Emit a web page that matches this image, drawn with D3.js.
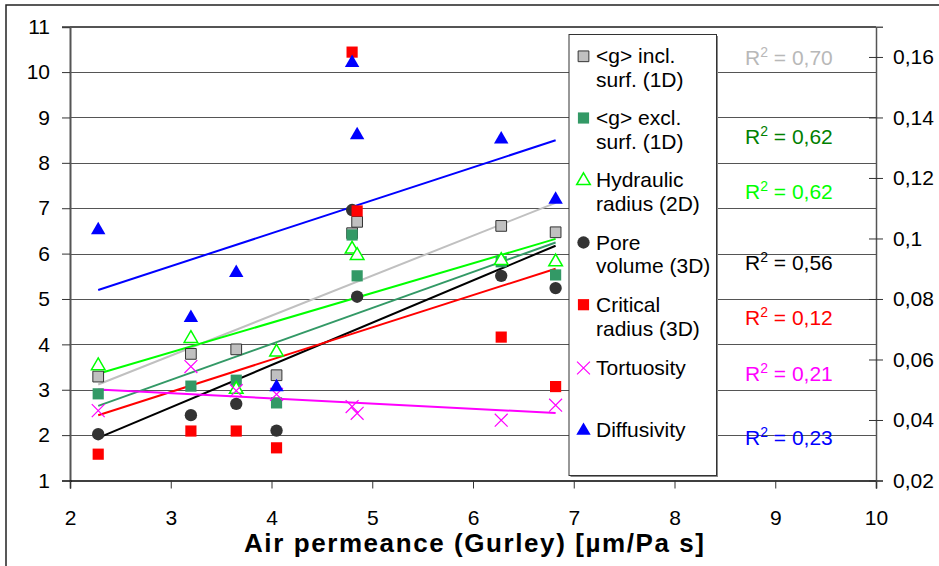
<!DOCTYPE html>
<html>
<head>
<meta charset="utf-8">
<script src="https://cdn.jsdelivr.net/npm/d3@7"></script>
<style>
  html, body { margin: 0; padding: 0; background: #fff; }
  svg { display: block; font-family: "Liberation Sans", Arial, sans-serif; }
</style>
</head>
<body>
<svg id="chart" width="939" height="566"></svg>
<script>
// Air permeance (Gurley) of the eight samples, µm/Pa s
const airPermeance = [2.28, 3.2, 3.65, 4.05, 4.8, 4.85, 6.28, 6.82];

// Left-axis series
const gInclSurf   = [3.29, 3.79, 3.89, 3.32, 6.45, 6.70, 6.61, 6.47];
const gExclSurf   = [2.91, 3.08, 3.21, 2.71, 6.41, 5.51, 5.82, 5.53];
const hydraulic   = [3.55, 4.15, 3.03, 3.85, 6.12, 5.98, 5.87, 5.84];
const poreVolume  = [2.02, 2.44, 2.69, 2.10, 6.96, 5.05, 5.51, 5.24];
const critRadius  = [1.58, 2.09, 2.09, 1.72, 10.44, 6.94, 4.16, 3.07];
const tortuosity  = [2.54, 3.51, 2.98, 2.90, 2.63, 2.48, 2.33, 2.66];
// Right-axis series
const diffusivity = [0.1031, 0.0741, 0.0890, 0.0512, 0.1584, 0.1345, 0.1331, 0.1132];

const seriesNames = [
  ["<g> incl.", "surf. (1D)"],
  ["<g> excl.", "surf. (1D)"],
  ["Hydraulic", "radius (2D)"],
  ["Pore", "volume (3D)"],
  ["Critical", "radius (3D)"],
  ["Tortuosity"],
  ["Diffusivity"]
];
const rSquaredLabels = ["0,70", "0,62", "0,62", "0,56", "0,12", "0,21", "0,23"];

const xTicks = [2, 3, 4, 5, 6, 7, 8, 9, 10];
const leftTicks = [1, 2, 3, 4, 5, 6, 7, 8, 9, 10, 11];
const rightTicks = [0.02, 0.04, 0.06, 0.08, 0.1, 0.12, 0.14, 0.16];
const xTitle = "Air permeance (Gurley) [µm/Pa s]";

const svg = d3.select("#chart");
const FONT = 21;

const plot = { left: 70, right: 876, top: 26.7, bottom: 480.5 };
const x = d3.scaleLinear().domain([2, 10]).range([plot.left, plot.right]);
const yL = d3.scaleLinear().domain([1, 11]).range([plot.bottom, plot.top]);
const yR = d3.scaleLinear().domain([0.02, 0.17]).range([plot.bottom, plot.top]);

const commaLocale = d3.formatLocale({ decimal: ",", thousands: ".", grouping: [3], currency: ["", ""] });
const fmtR = commaLocale.format("~g");

// Styles per series: marker symbol, fill, stroke, trend colour, R² colour, axis
const styles = [
  { data: gInclSurf,  sym: d3.symbolSquare,   size: 115, fill: "#c0c0c0", stroke: "#333", sw: 1,   line: "#c0c0c0", label: "#b8b8b8", y: yL },
  { data: gExclSurf,  sym: d3.symbolSquare,   size: 125, fill: "#339966", stroke: "none", sw: 0,  line: "#339966", label: "#008000", y: yL },
  { data: hydraulic,  sym: d3.symbolTriangle, size: 80,  fill: "#fff",    stroke: "#00ff00", sw: 1.5, line: "#00ff00", label: "#00ff00", y: yL },
  { data: poreVolume, sym: d3.symbolCircle,   size: 120, fill: "#333333", stroke: "none", sw: 0,  line: "#000000", label: "#000000", y: yL },
  { data: critRadius, sym: d3.symbolSquare,   size: 125, fill: "#ff0000", stroke: "none", sw: 0,  line: "#ff0000", label: "#ff0000", y: yL },
  { data: tortuosity, sym: d3.symbolTimes,    size: 110, fill: "none",    stroke: "#ff00ff", sw: 1.2, line: "#ff00ff", label: "#ff00ff", y: yL },
  { data: diffusivity,sym: d3.symbolTriangle, size: 90,  fill: "#0000ff", stroke: "none", sw: 0,  line: "#0000ff", label: "#0000ff", y: yR }
];

// Outer chart frame
svg.append("rect")
  .attr("x", 6).attr("y", 5).attr("width", 1000).attr("height", 1000)
  .attr("fill", "none").attr("stroke", "#222").attr("stroke-width", 1.5);

// Horizontal gridlines
svg.append("g").selectAll("line")
  .data(leftTicks.slice(1))
  .join("line")
  .attr("x1", plot.left).attr("x2", plot.right)
  .attr("y1", d => Math.round(yL(d)) + 0.5).attr("y2", d => Math.round(yL(d)) + 0.5)
  .attr("stroke", "#555").attr("stroke-width", 1);

// Left axis
const gLeft = svg.append("g").attr("transform", `translate(${plot.left},0)`)
  .call(d3.axisLeft(yL).tickValues(leftTicks).tickSize(8).tickPadding(12).tickFormat(d3.format("d")));
gLeft.select(".domain").attr("stroke", "#555").attr("stroke-width", 2);
gLeft.selectAll(".tick line").attr("stroke", "#333");
gLeft.selectAll("text").attr("font-size", FONT).attr("fill", "#000").attr("font-family", null);

// Bottom axis
const gBottom = svg.append("g").attr("transform", `translate(0,${plot.bottom})`)
  .call(d3.axisBottom(x).tickValues(xTicks).tickSize(8).tickPadding(22).tickFormat(d3.format("d")));
gBottom.select(".domain").attr("stroke", "#000").attr("stroke-width", 1.5);
gBottom.selectAll(".tick line").attr("stroke", "#333");
gBottom.selectAll("text").attr("font-size", FONT).attr("fill", "#000").attr("font-family", null);

// Right axis (diffusivity), ticks crossing the axis line
const gRight = svg.append("g").attr("transform", `translate(${plot.right},0)`)
  .call(d3.axisRight(yR).tickValues(rightTicks).tickSize(7).tickPadding(10).tickFormat(fmtR));
gRight.select(".domain").attr("stroke", "#555").attr("stroke-width", 1.5);
gRight.selectAll(".tick line").attr("x1", -7).attr("x2", 7).attr("stroke", "#333");
gRight.selectAll("text").attr("font-size", FONT).attr("fill", "#000").attr("font-family", null);

// Top border of the plot area
svg.append("line")
  .attr("x1", plot.left).attr("x2", plot.right)
  .attr("y1", plot.top).attr("y2", plot.top)
  .attr("stroke", "#555").attr("stroke-width", 1.5);

// Least-squares trend line
function linreg(xs, ys) {
  const mx = d3.mean(xs), my = d3.mean(ys);
  let sxy = 0, sxx = 0;
  xs.forEach((xv, i) => { sxy += (xv - mx) * (ys[i] - my); sxx += (xv - mx) ** 2; });
  const slope = sxy / sxx;
  return xv => my + slope * (xv - mx);
}

const xMin = d3.min(airPermeance), xMax = d3.max(airPermeance);
const trendG = svg.append("g");
styles.forEach(s => {
  const f = linreg(airPermeance, s.data);
  trendG.append("line")
    .attr("x1", x(xMin)).attr("y1", s.y(f(xMin)))
    .attr("x2", x(xMax)).attr("y2", s.y(f(xMax)))
    .attr("stroke", s.line).attr("stroke-width", 2);
});

// Data markers
function symbolPath(s) { return d3.symbol().type(s.sym).size(s.size)(); }
styles.forEach(s => {
  svg.append("g").selectAll("path")
    .data(s.data)
    .join("path")
    .attr("d", symbolPath(s))
    .attr("transform", (d, i) => `translate(${x(airPermeance[i])},${s.y(d) + (s.sym === d3.symbolTriangle ? 1 : 0)})`)
    .attr("fill", s.fill).attr("stroke", s.stroke).attr("stroke-width", s.sw);
});

// Legend
const legend = svg.append("g");
const lg = { x: 569, y: 34.5, w: 147.5, h: 441 };
legend.append("rect")
  .attr("x", lg.x + 1.5).attr("y", lg.y + 1.5).attr("width", lg.w).attr("height", lg.h)
  .attr("fill", "#888");
legend.append("rect")
  .attr("x", lg.x).attr("y", lg.y).attr("width", lg.w).attr("height", lg.h)
  .attr("fill", "#fff").attr("stroke", "#333").attr("stroke-width", 1);

const entryBaselines = [63.3, 125, 186.7, 249.5, 311.7, 375, 436.7];
styles.forEach((s, i) => {
  const by = entryBaselines[i];
  legend.append("path")
    .attr("d", symbolPath(s))
    .attr("transform", `translate(583.5,${by - 7 + (s.sym === d3.symbolTriangle ? 1 : 0)})`)
    .attr("fill", s.fill).attr("stroke", s.stroke).attr("stroke-width", s.sw);
  const t = legend.append("text")
    .attr("x", 596).attr("y", by)
    .attr("font-size", FONT).attr("fill", "#000");
  seriesNames[i].forEach((ln, k) => {
    t.append("tspan").attr("x", 596).attr("dy", k === 0 ? 0 : 23.8).text(ln);
  });
});

// R² labels
const r2Baselines = [65, 144, 199, 270, 325, 381, 445];
styles.forEach((s, i) => {
  const t = svg.append("text")
    .attr("x", 745).attr("y", r2Baselines[i])
    .attr("font-size", FONT).attr("fill", s.label);
  t.append("tspan").text("R");
  t.append("tspan").attr("dy", -8).attr("font-size", 14).text("2");
  t.append("tspan").attr("dy", 8).text(" = " + rSquaredLabels[i]);
});

// X-axis title
svg.append("text")
  .attr("x", 474).attr("y", 552)
  .attr("text-anchor", "middle")
  .attr("font-size", 26).attr("font-weight", "bold").attr("fill", "#000")
  .attr("textLength", 460).attr("lengthAdjust", "spacing")
  .text(xTitle);
</script>
</body>
</html>
